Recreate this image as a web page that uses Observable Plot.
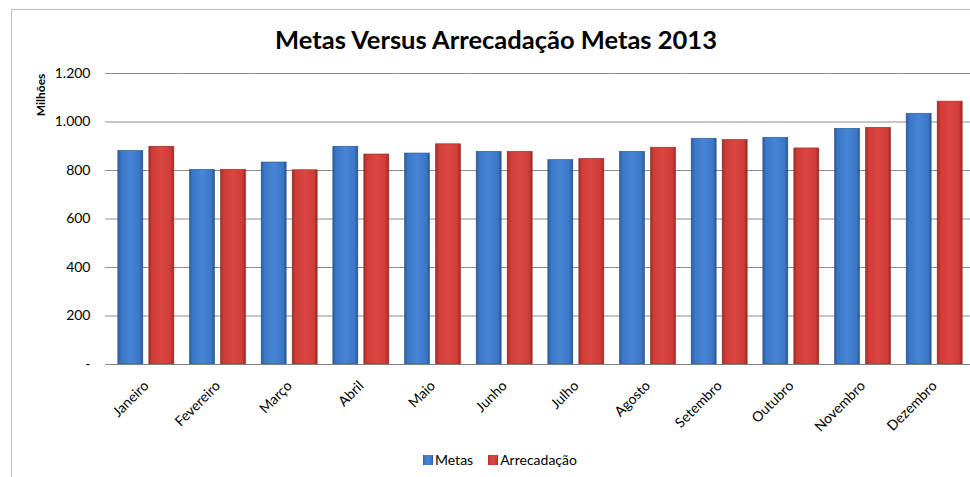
<!DOCTYPE html>
<html>
<head>
<meta charset="utf-8">
<script src="https://cdn.jsdelivr.net/npm/d3@7"></script>
<script src="https://cdn.jsdelivr.net/npm/@observablehq/plot@0.6"></script>
<style>
  html, body { margin: 0; padding: 0; background: #fff; }
  #wrap { position: relative; width: 970px; height: 477px; overflow: hidden; font-family: Lato, "Open Sans", sans-serif; }
  #frame { position: absolute; left: 11px; top: 9px; width: 980px; height: 500px; border: 1px solid #bdbdbd; box-sizing: border-box; }
  #title { position: absolute; left: 0; width: 992px; top: 24px; text-align: center; font-weight: bold; font-size: 25.5px; line-height: 30px; color: #000; }
  #ylabel { position: absolute; left: 40px; top: 95px; transform: translate(-50%, -50%) rotate(-90deg); font-weight: bold; font-size: 12px; white-space: nowrap; }
  #chart { position: absolute; left: 0; top: 0; }
  #legend { position: absolute; left: 423px; top: 451px; font-size: 14px; display: flex; align-items: center; white-space: nowrap; }
  #legend .sw { width: 10px; height: 10px; margin-right: 2px; }
  #legend .item { display: flex; align-items: center; margin-right: 15px; }
</style>
</head>
<body>
<div id="wrap">
  <div id="frame"></div>
  <div id="chart"></div>
  <div id="title">Metas Versus Arrecadação Metas 2013</div>
  <div id="ylabel">Milhões</div>
  <div id="legend"></div>
</div>
<script>
const months = ["Janeiro", "Fevereiro", "Março", "Abril", "Maio", "Junho", "Julho", "Agosto", "Setembro", "Outubro", "Novembro", "Dezembro"];
const series = ["Metas", "Arrecadação"];
const metas = [881, 803, 833, 898, 870, 877, 843, 877, 931, 935, 972, 1034];
const arrecadacao = [898, 803, 801, 866, 908, 877, 848, 894, 926, 891, 976, 1084];
const yTicks = [0, 200, 400, 600, 800, 1000, 1200];

const data = months.flatMap((m, i) => [
  {month: m, serie: series[0], value: metas[i]},
  {month: m, serie: series[1], value: arrecadacao[i]}
]);

const fmt = d => d === 0 ? "-" : d3.format(",")(d).replace(/,/g, ".");

const chart = Plot.plot({
  width: 970,
  height: 477,
  marginTop: 73,
  marginBottom: 113,
  marginLeft: 110,
  marginRight: 0,
  style: {fontFamily: "Lato, 'Open Sans', sans-serif", fontSize: "14px", color: "#000", background: "transparent"},
  fx: {domain: months, padding: 0, round: false, label: null},
  x: {domain: series, paddingInner: 0.194, paddingOuter: 0.253, round: false, axis: null},
  y: {domain: [0, 1200], label: null},
  color: {domain: series, range: ["url(#gBlue)", "url(#gRed)"]},
  marks: [
    Plot.ruleY(yTicks.slice(1), {stroke: "#8c8c8c", strokeWidth: 1, strokeOpacity: 1}),
    Plot.barY(data, {fx: "month", x: "serie", y: "value", fill: "serie", stroke: "serie", strokeWidth: 0.6}),
    Plot.ruleY([0], {stroke: "#808080", strokeWidth: 1.2}),
    Plot.axisY({ticks: yTicks, tickFormat: fmt, tickSize: 5, tickPadding: 15, stroke: "#8c8c8c", fontSize: 14, label: null}),
    Plot.axisFx({anchor: "bottom", tickRotate: -45, tickSize: 0, tickPadding: 19, fontSize: 14, label: null})
  ]
});

const svg = d3.select(chart);
const defs = svg.insert("defs", ":first-child");
function grad(id, stops) {
  const g = defs.append("linearGradient").attr("id", id).attr("x1", "0").attr("x2", "1").attr("y1", "0").attr("y2", "0");
  stops.forEach(([o, c]) => g.append("stop").attr("offset", o).attr("stop-color", c));
}
grad("gBlue", [["0", "#2a5a9c"], ["0.12", "#3a76c4"], ["0.5", "#4686d6"], ["0.88", "#3a76c4"], ["1", "#28558f"]]);
grad("gRed", [["0", "#9e2b27"], ["0.12", "#cf3b35"], ["0.5", "#dc4640"], ["0.88", "#cf3b35"], ["1", "#972723"]]);
svg.selectAll("rect[stroke='url(#gBlue)']").attr("stroke", "#2a5590");
svg.selectAll("rect[stroke='url(#gRed)']").attr("stroke", "#962a26");
document.getElementById("chart").appendChild(chart);

// legend
const legend = d3.select("#legend");
const legendColors = ["url(#gBlue)", "url(#gRed)"];
series.forEach((s, i) => {
  const item = legend.append("div").attr("class", "item");
  item.append("svg").attr("class", "sw").attr("width", 10).attr("height", 10)
    .append("rect").attr("width", 10).attr("height", 10).attr("fill", legendColors[i]);
  item.append("span").text(s);
});
</script>
</body>
</html>
